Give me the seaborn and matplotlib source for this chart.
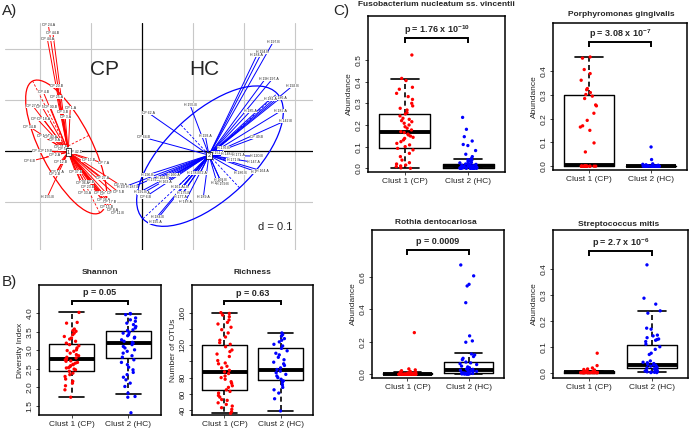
import numpy as np
import pandas as pd
import matplotlib
matplotlib.use('Agg')
import matplotlib.pyplot as plt
from matplotlib.patches import Ellipse
import seaborn as sns

sns.set_style('white')
plt.rcParams['font.family'] = ['Liberation Sans', 'DejaVu Sans']
plt.rcParams['mathtext.fontset'] = 'custom'
plt.rcParams['mathtext.rm'] = 'Liberation Sans'
plt.rcParams['mathtext.bf'] = 'Liberation Sans:bold'

# ---------------- data: panel A (between-class star plot) ----------------
cp_x = [-0.184, -0.175, -0.186, -0.167, -0.194, -0.167, -0.141, -0.214, -0.196, -0.180,
        -0.157, -0.151, -0.206, -0.194, -0.220, -0.194, -0.180, -0.171, -0.161, -0.155,
        -0.204, -0.190, -0.131, -0.220, -0.171, -0.161, -0.106, -0.076, -0.167, -0.171,
        -0.131, -0.078, -0.108, -0.118, -0.108, -0.112, -0.082, -0.069, -0.057, -0.186,
        -0.076, -0.063, -0.069, -0.059, -0.049, -0.047, -0.043]
cp_y = [0.247, 0.231, 0.220, 0.127, 0.116, 0.106, 0.084, 0.088, 0.086, 0.086,
        0.076, 0.067, 0.063, 0.063, 0.047, 0.029, 0.027, 0.022, 0.008, 0.004,
        0.000, 0.000, -0.002, -0.020, -0.008, -0.022, -0.018, -0.024, -0.041, -0.045,
        -0.041, -0.053, -0.061, -0.063, -0.071, -0.082, -0.082, -0.084, -0.082, -0.090,
        -0.096, -0.100, -0.110, -0.116, -0.122, -0.080, -0.067]
cp_names = ["CP 24.A", "CP 44.B", "CP 44.A", "CP 20.B", "CP 4.B", "CP 25.A", "CP 1.A", "CP 27.B",
            "CP 52.A", "CP 30.B", "CP 3.B", "CP 3.A", "CP 60.A", "CP 18.A", "CP 34.B", "CP 14.B",
            "CP 40.A", "CP 9.A", "CP 21.B", "CP 5.A", "CP 46.B", "CP 19.B", "CP 42.B", "CP 6.B",
            "CP 2.A", "CP 12.B", "CP 13.B", "CP 7.A", "CP 11.A", "CP 2.B", "CP 37.B", "CP 27.A",
            "CP 22.B", "CP 36.A", "CP 23.B", "CP 33.A", "CP 31.B", "CP 16.B", "CP 10.B", "H 155.B",
            "CP 28.A", "CP 17.B", "CP 15.B", "CP 8.A", "CP 11.B", "CP 5.B", "CP 29.A"]

hc_x = [0.257, 0.235, 0.225, 0.241, 0.255, 0.294, 0.261, 0.271, 0.251, 0.094,
        0.012, 0.212, 0.271, 0.280, 0.124, 0.002, 0.225, 0.159, 0.147, 0.167,
        0.188, 0.225, 0.218, 0.178, 0.225, 0.235, 0.192, 0.153, 0.147, 0.157,
        0.114, 0.100, 0.061, 0.120, 0.078, 0.069, 0.080, 0.075, 0.084, 0.029,
        0.025, 0.010, 0.022, 0.002, 0.006, -0.004, -0.037, -0.020, 0.045, 0.039]
hc_y = [0.214, 0.194, 0.188, 0.141, 0.141, 0.127, 0.104, 0.104, 0.102, 0.090,
        0.075, 0.078, 0.078, 0.059, 0.029, 0.027, 0.027, 0.006, -0.004, -0.006,
        -0.008, -0.010, -0.022, -0.018, -0.041, -0.039, -0.043, -0.057, -0.063, -0.065,
        -0.043, -0.043, -0.047, -0.090, -0.071, -0.071, -0.082, -0.090, -0.100, -0.129,
        -0.139, -0.047, -0.057, -0.082, -0.090, -0.080, -0.071, -0.071, -0.061, -0.053]
hc_names = ["H 197.B", "H 194.B", "H 184.A", "H 190.B", "H 197.A", "H 192.B", "H 183.B", "H 186.A",
            "H 181.A", "H 155.B", "CP 62.A", "H 185.A", "H 182.A", "H 142.B", "H 193.A", "CP 64.B",
            "CP 49.B", "H 176.B", "H 151.A", "H 148.B", "H 171.A", "H 120.B", "H 147.A", "H 171.B",
            "H 165.B", "H 164.A", "H 186.B", "H 168.B", "H 169.A", "H 159.B", "H 172.A", "H 178.B",
            "H 160.A", "H 189.A", "H 166.B", "H 161.A", "H 175.B", "H 177.A", "H 143.A", "H 184.B",
            "H 195.A", "H 196.B", "H 179.A", "H 188.A", "CP 6.B", "H 191.B", "H 199.A", "H 187.B",
            "H 163.A", "H 162.B"]

centroids = {'1': (-0.145, -0.002), '2': (0.131, -0.008)}
# ellipse: centre x, centre y, semi-major, semi-minor, angle (deg)
ellipses = {'1': (-0.149, 0.008, 0.145, 0.050, 117), '2': (0.133, -0.010, 0.180, 0.085, 43)}

# ---------------- data: panels B and C (abundance / diversity) ----------------
shannon_cp = [4.02, 3.75, 3.73, 3.57, 3.53, 3.51, 3.46, 3.42, 3.37, 3.33, 3.30, 3.24, 3.19, 3.15,
              3.12, 3.06, 3.01, 2.99, 2.97, 2.92, 2.88, 2.85, 2.81, 2.79, 2.76, 2.74, 2.71, 2.70,
              2.67, 2.65, 2.62, 2.61, 2.58, 2.56, 2.53, 2.52, 2.49, 2.47, 2.43, 2.38, 2.34, 2.29,
              2.22, 2.16, 2.11, 2.04, 1.93, 1.73]
shannon_hc = [3.99, 3.98, 3.96, 3.87, 3.82, 3.78, 3.73, 3.69, 3.64, 3.60, 3.55, 3.53, 3.48, 3.46,
              3.42, 3.39, 3.35, 3.33, 3.28, 3.24, 3.21, 3.19, 3.15, 3.10, 3.06, 3.01, 2.97, 2.92,
              2.85, 2.81, 2.74, 2.67, 2.61, 2.54, 2.47, 2.40, 2.34, 2.27, 2.20, 2.11, 2.02, 1.84,
              1.75, 1.73, 1.31]
richness_cp = [160, 159, 157, 155, 151, 148, 146, 142, 139, 135, 130, 126, 123, 121, 118, 114,
               112, 109, 106, 101, 98, 97, 94, 92, 89, 87, 85, 82, 80, 78, 75, 73, 70, 68, 65,
               63, 61, 58, 56, 53, 52, 49, 47, 45, 43, 41, 38, 36]
richness_hc = [135, 133, 131, 128, 126, 124, 121, 119, 116, 113, 110, 108, 105, 102, 99, 97, 95,
               92, 90, 88, 86, 84, 82, 80, 78, 76, 74, 71, 68, 65, 61, 54, 39]
fuso_cp = [0.523, 0.415, 0.405, 0.374, 0.365, 0.346, 0.331, 0.318, 0.300, 0.288, 0.277, 0.269,
           0.257, 0.251, 0.242, 0.231, 0.226, 0.220, 0.215, 0.208, 0.200, 0.192, 0.185, 0.177,
           0.169, 0.165, 0.158, 0.154, 0.149, 0.143, 0.138, 0.131, 0.123, 0.115, 0.108, 0.100,
           0.092, 0.085, 0.069, 0.054, 0.038, 0.026, 0.020, 0.015, 0.011, 0.008, 0.002, 0.0]
fuso_hc = [0.235, 0.180, 0.146, 0.126, 0.110, 0.105, 0.082, 0.065, 0.054, 0.045, 0.040, 0.038,
           0.035, 0.030, 0.027, 0.025, 0.022, 0.020, 0.018, 0.016, 0.014, 0.012, 0.011, 0.010,
           0.009, 0.008, 0.007, 0.006, 0.005, 0.004, 0.003, 0.002, 0.001,
           0.0, 0.0, 0.0, 0.0, 0.0, 0.0, 0.0, 0.0, 0.0, 0.0]
porph_cp = [0.460, 0.455, 0.407, 0.390, 0.362, 0.327, 0.322, 0.310, 0.302, 0.295, 0.285, 0.258,
            0.254, 0.223, 0.193, 0.170, 0.165, 0.151, 0.098, 0.060,
            0.0, 0.0, 0.0, 0.0, 0.0, 0.0, 0.0, 0.0, 0.0, 0.0, 0.0, 0.0, 0.0, 0.0, 0.0, 0.0,
            0.0, 0.0, 0.0, 0.0, 0.0, 0.0]
porph_hc = [0.081, 0.028, 0.010, 0.008, 0.006, 0.004, 0.002, 0.001,
            0.0, 0.0, 0.0, 0.0, 0.0, 0.0, 0.0, 0.0, 0.0, 0.0, 0.0, 0.0, 0.0, 0.0, 0.0, 0.0,
            0.0, 0.0, 0.0, 0.0, 0.0, 0.0, 0.0, 0.0, 0.0, 0.0, 0.0, 0.0, 0.0, 0.0]
rothia_cp = [0.256, 0.033, 0.027, 0.022, 0.018, 0.014, 0.012, 0.010, 0.008, 0.006, 0.005, 0.004,
             0.003, 0.002, 0.001,
             0.0, 0.0, 0.0, 0.0, 0.0, 0.0, 0.0, 0.0, 0.0, 0.0, 0.0, 0.0, 0.0, 0.0, 0.0, 0.0,
             0.0, 0.0, 0.0, 0.0, 0.0, 0.0, 0.0, 0.0, 0.0, 0.0]
rothia_hc = [0.672, 0.605, 0.553, 0.543, 0.440, 0.236, 0.205, 0.197, 0.125, 0.119, 0.109, 0.098,
             0.090, 0.075, 0.070, 0.065, 0.060, 0.050, 0.045, 0.040, 0.035, 0.032, 0.030, 0.028,
             0.025, 0.022, 0.020, 0.018, 0.015, 0.012, 0.010, 0.008, 0.006, 0.005, 0.004, 0.003,
             0.002, 0.001, 0.0, 0.0]
strep_cp = [0.075, 0.027, 0.018, 0.014, 0.012, 0.010, 0.008, 0.006, 0.005, 0.004, 0.003, 0.002,
            0.001,
            0.0, 0.0, 0.0, 0.0, 0.0, 0.0, 0.0, 0.0, 0.0, 0.0, 0.0, 0.0, 0.0, 0.0, 0.0, 0.0,
            0.0, 0.0, 0.0, 0.0, 0.0, 0.0, 0.0, 0.0, 0.0, 0.0]
strep_hc = [0.417, 0.288, 0.265, 0.239, 0.230, 0.172, 0.168, 0.145, 0.142, 0.135, 0.130, 0.128,
            0.125, 0.120, 0.110, 0.100, 0.090, 0.075, 0.070, 0.045, 0.040, 0.038, 0.035, 0.032,
            0.030, 0.028, 0.025, 0.022, 0.020, 0.018, 0.015, 0.012, 0.010, 0.008, 0.006, 0.005,
            0.003, 0.002, 0.001, 0.0, 0.0]

# box statistics: (whislo, q1, med, q3, whishi)
box_stats = {
    'shannon':  [(1.73, 2.43, 2.77, 3.18, 4.02), (1.83, 2.80, 3.19, 3.52, 3.99)],
    'richness': [(36, 65, 86.5, 120, 160), (39, 76.5, 90, 116, 135)],
    'fuso':     [(0.0, 0.092, 0.167, 0.251, 0.414), (0.0, 0.003, 0.012, 0.022, 0.045)],
    'porph':    [(0.0, 0.0, 0.003, 0.301, 0.458), (0.0, 0.0, 0.0, 0.002, 0.002)],
    'rothia':   [(0.0, 0.0, 0.003, 0.006, 0.012), (0.0, 0.006, 0.028, 0.078, 0.129)],
    'strep':    [(0.0, 0.0, 0.002, 0.005, 0.008), (0.004, 0.017, 0.029, 0.106, 0.240)],
}
groups = ['Clust 1 (CP)', 'Clust 2 (HC)']

W, H = 691, 429
fig = plt.figure(figsize=(W / 100, H / 100), dpi=100)


def px_axes(l, t, r, b):
    return fig.add_axes([l / W, 1 - b / H, (r - l) / W, (b - t) / H])


def px_text(x, y, s, **kw):
    fig.text(x / W, 1 - y / H, s, **kw)


# ---------------- panel A ----------------
axA = px_axes(5, 23, 313, 250)
axA.set_xlim(-0.269, 0.335)
axA.set_ylim(-0.194, 0.251)
axA.axis('off')
for gx in [-0.2, -0.1, 0.1, 0.2, 0.3]:
    axA.axvline(gx, color='#c8c8c8', lw=0.8, zorder=0)
for gy in [-0.1, 0.1, 0.2]:
    axA.axhline(gy, color='#c8c8c8', lw=0.8, zorder=0)
axA.axvline(0, color='black', lw=0.9, zorder=1)
axA.axhline(0, color='black', lw=0.9, zorder=1)

for key, xs, ys, names, col in [('1', cp_x, cp_y, cp_names, 'red'),
                                ('2', hc_x, hc_y, hc_names, 'blue')]:
    cx, cy = centroids[key]
    for x, y in zip(xs, ys):
        axA.plot([cx, x], [cy, y], color=col, lw=0.7, zorder=2)
    ex, ey, a, b, ang = ellipses[key]
    axA.add_patch(Ellipse((ex, ey), 2 * a, 2 * b, angle=ang, fill=False,
                          ec=col, lw=0.9, zorder=2))
    t = np.deg2rad(ang)
    axA.plot([ex - a * np.cos(t), ex + a * np.cos(t)], [ey - a * np.sin(t), ey + a * np.sin(t)],
             color=col, lw=0.6, ls=(0, (3, 2)), zorder=2)
    axA.plot([ex + b * np.sin(t), ex - b * np.sin(t)], [ey - b * np.cos(t), ey + b * np.cos(t)],
             color=col, lw=0.6, ls=(0, (3, 2)), zorder=2)
    for x, y, n in zip(xs, ys, names):
        axA.text(x, y, n, fontsize=2.5, ha='center', va='center', zorder=4,
                 bbox=dict(boxstyle='square,pad=0.02', fc='white', ec='none'))
    axA.text(cx, cy, key, fontsize=4, ha='center', va='center', zorder=5,
             bbox=dict(boxstyle='square,pad=0.2', fc='white', ec='black', lw=0.5))

axA.text(-0.073, 0.159, 'CP', fontsize=15, ha='center', va='center')
axA.text(0.122, 0.159, 'HC', fontsize=15, ha='center', va='center')
axA.text(0.261, -0.149, 'd = 0.1', fontsize=8, ha='center', va='center')


# ---------------- panels B and C ----------------
def box_panel(rect, cp, hc, key, ylim, yticks, ylabel, title, title_xy,
              ptext, bracket, ytick_labels=None):
    ax = px_axes(*rect)
    stats = []
    for g, (lo, q1, med, q3, hi) in zip(groups, box_stats[key]):
        stats.append(dict(label=g, whislo=lo, q1=q1, med=med, q3=q3, whishi=hi, fliers=[]))
    ax.bxp(stats, positions=[0, 1], widths=0.8, showfliers=False, capwidths=0.45,
           boxprops=dict(color='black', lw=1.0),
           medianprops=dict(color='black', lw=2.8, solid_capstyle='butt'),
           whiskerprops=dict(color='black', lw=1.2, ls=(0, (3, 2))),
           capprops=dict(color='black', lw=1.2))
    df = pd.DataFrame({'cluster': [groups[0]] * len(cp) + [groups[1]] * len(hc),
                       'value': cp + hc})
    sns.stripplot(data=df, x='cluster', y='value', hue='cluster', palette=['red', 'blue'],
                  jitter=0.14, size=2.4, linewidth=0, legend=False, ax=ax, zorder=3)
    ax.set_xlim(-0.58, 1.58)
    ax.set_ylim(*ylim)
    ax.set_yticks(yticks)
    if ytick_labels is not None:
        ax.set_yticklabels(ytick_labels)
    ax.set_xticks([0, 1])
    ax.set_xticklabels(groups)
    ax.tick_params(axis='both', labelsize=6, length=2.5, width=0.6, pad=1.5,
                   direction='out', left=True, bottom=True)
    ax.tick_params(axis='y', labelrotation=90)
    for lab in ax.get_yticklabels():
        lab.set_va('center')
    ax.set_xlabel('')
    ax.set_ylabel(ylabel, fontsize=6, labelpad=2)
    for s in ax.spines.values():
        s.set_visible(True)
        s.set_color('black')
        s.set_linewidth(1.1)
    yb, drop, yt = bracket
    ax.plot([0, 0, 1, 1], [yb - drop, yb, yb, yb - drop], color='black', lw=1.4,
            solid_capstyle='butt', solid_joinstyle='miter', clip_on=False)
    ax.text(0.5, yt, ptext, fontsize=6.5, fontweight='bold', ha='center', va='center')
    px_text(title_xy[0], title_xy[1], title, fontsize=6, fontweight='bold',
            ha='center', va='center')
    return ax


box_panel((39, 285, 161, 415), shannon_cp, shannon_hc, 'shannon', (1.25, 4.76),
          [1.5, 2.0, 2.5, 3.0, 3.5, 4.0], 'Diversity Index', 'Shannon', (100, 272),
          'p = 0.05', (4.34, 0.12, 4.56))
box_panel((192, 285, 313, 415), richness_cp, richness_hc, 'richness', (34, 194),
          [40, 60, 80, 100, 120, 140, 160], 'Number of OTUs', 'Richness', (252, 272),
          'p = 0.63', (174.3, 5.3, 183), ['40', '60', '80', '', '120', '', '160'])
box_panel((368, 16, 505, 172), fuso_cp, fuso_hc, 'fuso', (-0.017, 0.703),
          [0.0, 0.1, 0.2, 0.3, 0.4, 0.5], 'Abundance',
          'Fusobacterium nucleatum ss. vincentii', (436, 5),
          r'p = 1.76 x 10$^{\mathbf{-10}}$', (0.603, 0.023, 0.638))
box_panel((553, 23, 687, 170), porph_cp, porph_hc, 'porph', (-0.016, 0.603),
          [0.0, 0.1, 0.2, 0.3, 0.4], 'Abundance', 'Porphyromonas gingivalis', (621, 14),
          r'p = 3.08 x 10$^{\mathbf{-7}}$', (0.524, 0.021, 0.556))
box_panel((372, 230, 504, 378), rothia_cp, rothia_hc, 'rothia', (-0.023, 0.887),
          [0.0, 0.2, 0.4, 0.6], 'Abundance', 'Rothia dentocariosa', (436, 222),
          'p = 0.0009', (0.764, 0.03, 0.816))
box_panel((553, 230, 688, 378), strep_cp, strep_hc, 'strep', (-0.021, 0.552),
          [0.0, 0.1, 0.2, 0.3, 0.4], 'Abundance', 'Streptococcus mitis', (619, 224),
          r'p = 2.7 x 10$^{\mathbf{-6}}$', (0.471, 0.018, 0.50))

px_text(2, 11, 'A)', fontsize=11, ha='left', va='center')
px_text(2, 282, 'B)', fontsize=11, ha='left', va='center')
px_text(333, 11, 'C)', fontsize=11, ha='left', va='center')

fig.savefig('out.png', dpi=100)
